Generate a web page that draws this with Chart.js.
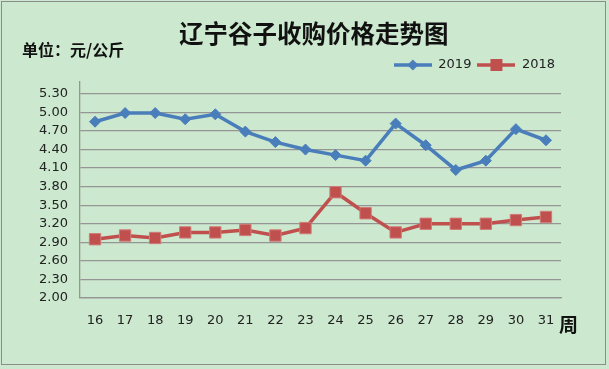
<!DOCTYPE html>
<html><head><meta charset="utf-8">
<script src="https://cdn.jsdelivr.net/npm/chart.js@4/dist/chart.umd.min.js"></script>
<style>
html,body{margin:0;padding:0;background:#cce8cf;}
#wrap{position:relative;width:609px;height:369px;overflow:hidden;background:#cce8cf;}
#frame{position:absolute;left:1px;top:1px;width:603px;height:362px;border:1.5px solid #8c8c8c;pointer-events:none;}
canvas{position:absolute;left:0;top:0;}
.t{position:absolute;font-family:"Noto Sans CJK SC";font-weight:bold;color:#111;white-space:nowrap;}
</style></head><body>
<div id="wrap">
<canvas id="c" width="609" height="369"></canvas>
<div class="t" style="left:179px;top:19px;font-size:24.5px;line-height:28px;">辽宁谷子收购价格走势图</div>
<div class="t" style="left:22px;top:40px;font-size:16px;line-height:19px;">单位：元/公斤</div>
<div class="t" style="left:559px;top:313px;font-size:19px;line-height:22px;">周</div>
<div id="frame"></div>
</div>
<script>
const weeks = ['16','17','18','19','20','21','22','23','24','25','26','27','28','29','30','31'];
const price2019 = [4.85,4.99,4.99,4.89,4.97,4.69,4.52,4.40,4.31,4.22,4.82,4.47,4.07,4.22,4.73,4.55];
const price2018 = [2.95,3.01,2.97,3.06,3.06,3.10,3.01,3.13,3.71,3.37,3.06,3.20,3.20,3.20,3.26,3.31];
const yTicks = [2.00,2.30,2.60,2.90,3.20,3.50,3.80,4.10,4.40,4.70,5.00,5.30];
const seriesNames = ['2019','2018'];

const BLUE = '#4a7ebb', RED = '#c0504d';

function legendIcon(color, shape){
  const cv = document.createElement('canvas');
  cv.width = 38; cv.height = 14;
  const x = cv.getContext('2d');
  x.strokeStyle = color; x.lineWidth = 3.5;
  x.beginPath(); x.moveTo(0,7); x.lineTo(38,7); x.stroke();
  x.fillStyle = color;
  if (shape === 'diamond'){
    x.beginPath(); x.moveTo(19,1.5); x.lineTo(24.5,7); x.lineTo(19,12.5); x.lineTo(13.5,7); x.closePath(); x.fill();
  } else {
    x.fillRect(13,1,12,12);
  }
  return cv;
}
const icons = [legendIcon(BLUE,'diamond'), legendIcon(RED,'square')];

new Chart(document.getElementById('c'), {
  type: 'line',
  data: {
    labels: weeks,
    datasets: [
      {label: seriesNames[0], data: price2019, borderColor: BLUE, backgroundColor: BLUE,
       borderWidth: 3.5, pointStyle: 'rectRot', pointRadius: 5.5, pointBackgroundColor: BLUE,
       pointBorderColor: BLUE, pointBorderWidth: 1, tension: 0},
      {label: seriesNames[1], data: price2018, borderColor: RED, backgroundColor: RED,
       borderWidth: 3.5, pointStyle: 'rect', pointRadius: 8, pointBackgroundColor: RED,
       pointBorderColor: '#d27a77', pointBorderWidth: 1, tension: 0}
    ]
  },
  options: {
    responsive: false,
    animation: false,
    layout: {padding: {top: 52.5, right: 48, left: 0, bottom: 0}},
    plugins: {
      title: {display: false},
      tooltip: {enabled: false},
      legend: {
        display: true, position: 'top', align: 'end',
        labels: {
          usePointStyle: true, pointStyleWidth: 38, boxHeight: 13, padding: 6,
          color: '#222', font: {family: 'DejaVu Sans', size: 13},
          generateLabels: (chart) => {
            const items = Chart.defaults.plugins.legend.labels.generateLabels(chart);
            items.forEach((it, i) => { it.pointStyle = icons[i]; });
            return items;
          }
        }
      }
    },
    scales: {
      x: {
        type: 'category', offset: true,
        grid: {display: false, drawTicks: false},
        border: {display: true, color: '#959595', width: 1.3},
        ticks: {color: '#222', font: {family: 'DejaVu Sans', size: 13}, padding: 15, maxRotation: 0, autoSkip: false},
        afterFit: (s) => { s.height = 71; }
      },
      y: {
        min: 2, max: 5.5,
        afterBuildTicks: (s) => { s.ticks = yTicks.map(v => ({value: v})); },
        grid: {color: '#959595', lineWidth: 1.3, drawTicks: false},
        border: {display: true, color: '#959595', width: 1.3},
        ticks: {color: '#222', font: {family: 'DejaVu Sans', size: 13}, padding: 12,
                callback: (v) => Number(v).toFixed(2)},
        afterFit: (s) => { s.width = 80; }
      }
    }
  }
});
</script>
</body></html>
